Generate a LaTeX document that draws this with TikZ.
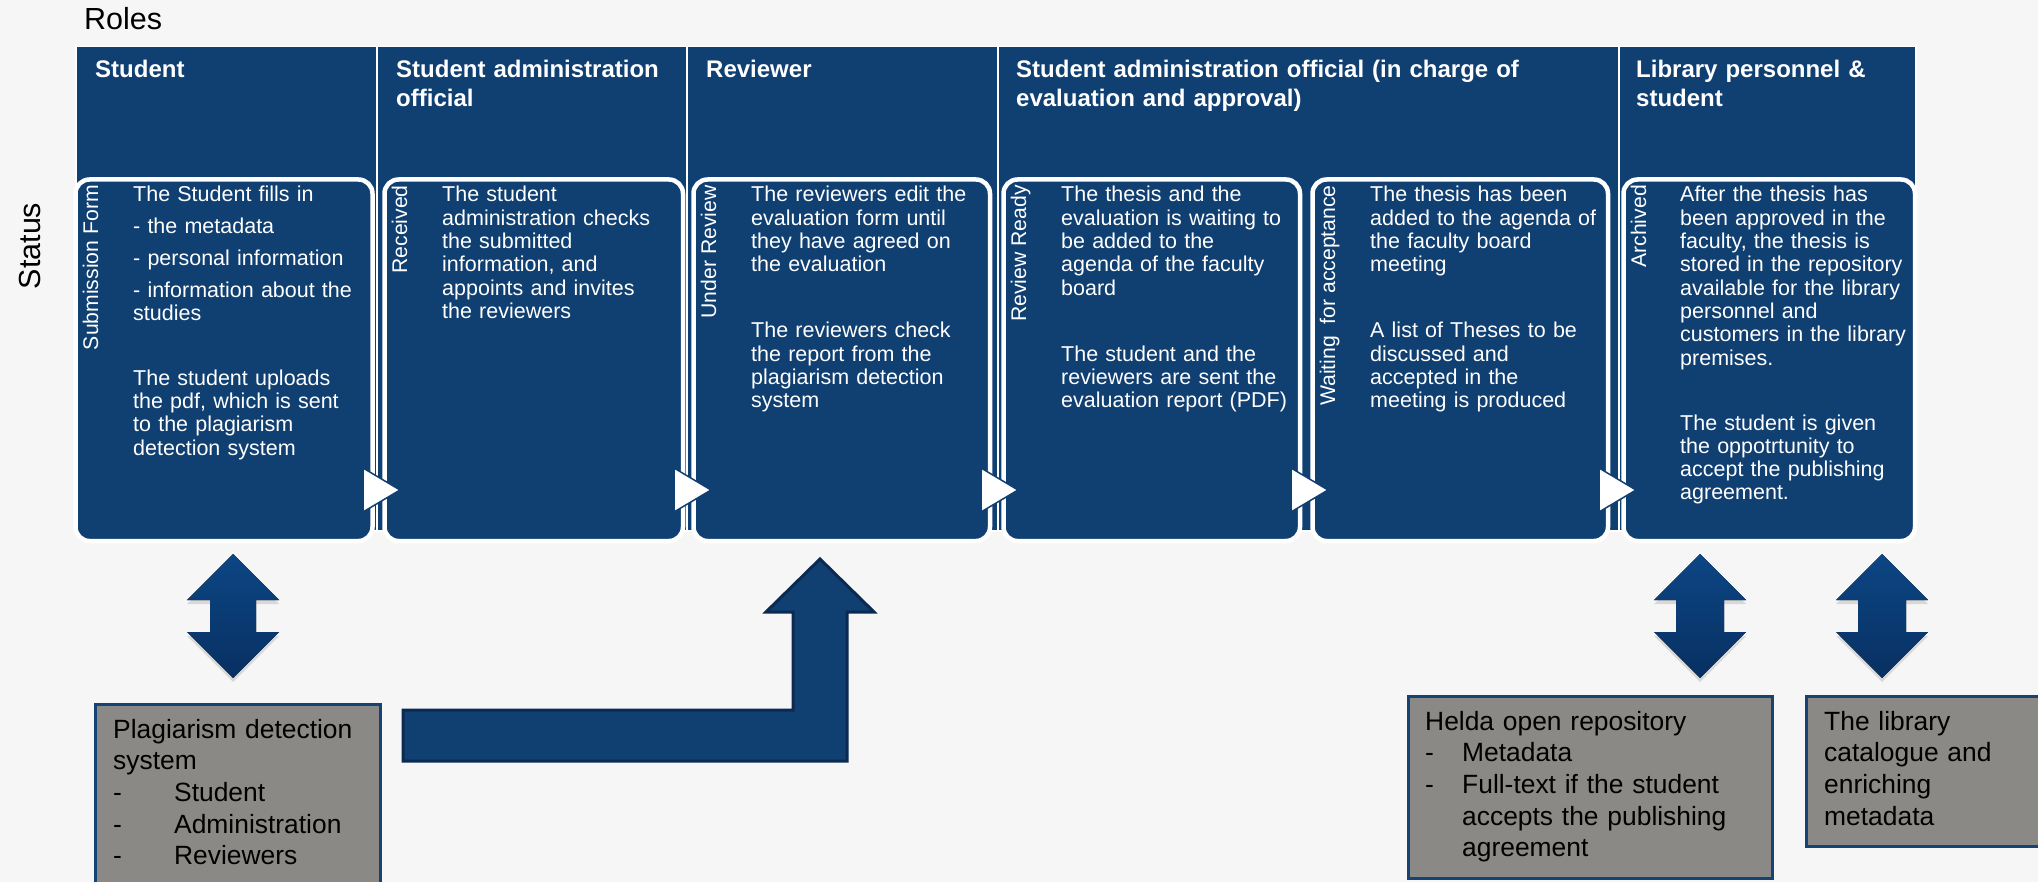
\documentclass[tikz,border=0pt]{standalone}
\usepackage{fontspec}
\setmainfont{Liberation Sans}
\usetikzlibrary{shadows}

\definecolor{roleblue}{RGB}{16,63,114}
\definecolor{sysgray}{RGB}{138,137,133}
\definecolor{sysedge}{RGB}{22,66,116}
\definecolor{bendedge}{RGB}{10,42,82}
\definecolor{arrowtop}{RGB}{12,70,132}
\definecolor{arrowbot}{RGB}{8,48,98}
\definecolor{paper}{RGB}{246,246,246}

\begin{document}
\begin{tikzpicture}[x=1pt,y=-1pt]
    \tikzstyle{role}=[draw=white,line width=1.5pt,fill=roleblue,anchor=north west,inner sep=0,minimum height=484pt]
    \tikzstyle{roletitle}=[text=white,anchor=base west,inner sep=0,align=left,text width=300pt,font=\fontsize{24}{29}\selectfont\bfseries]
    \tikzstyle{status}=[draw=white,line width=4.5pt,fill=roleblue,rounded corners=14pt,anchor=north west,inner sep=0,minimum height=361.5pt]
    \tikzstyle{statuslabel}=[text=white,rotate=90,anchor=base east,inner sep=0,font=\fontsize{21.2}{25}\selectfont]
    \tikzstyle{statustext}=[text=white,anchor=base west,inner sep=0,align=left,text width=250pt,font=\fontsize{21.5}{23.3}\selectfont]
    \tikzstyle{nexttip}=[fill=white,draw=roleblue,line width=1.5pt]
    \tikzstyle{system}=[draw=sysedge,line width=3.5pt,fill=sysgray,anchor=north west,inner sep=0]
    \tikzstyle{systext}=[anchor=base west,inner sep=0,align=left,text width=340pt,font=\fontsize{26.4}{31.7}\selectfont]
    \tikzstyle{dblarrow}=[top color=arrowtop,bottom color=arrowbot,drop shadow={opacity=.25,shadow xshift=0pt,shadow yshift=-4pt}]
    \tikzstyle{bendarrow}=[fill=roleblue,draw=bendedge,line width=3pt]

    \useasboundingbox (0,0) rectangle (2038,882);
    \fill[paper] (0,0) rectangle (2038,882);

    \node[anchor=base west,inner sep=0,font=\fontsize{30.5}{36}\selectfont] (roles) at (84,30) {Roles};
    \node[rotate=90,anchor=base,inner sep=0,font=\fontsize{30.5}{36}\selectfont] (status) at (40,246) {Status};

    % roles
    \node[role,minimum width=301pt] (hStudent) at (75,46) {};
    \node[role,minimum width=310pt] (hAdmin) at (376,46) {};
    \node[role,minimum width=311pt] (hReviewer) at (686,46) {};
    \node[role,minimum width=621pt] (hBoard) at (997,46) {};
    \node[role,minimum width=297pt] (hLibrary) at (1618,46) {};

    \node[roletitle] (tStudent) at (95,78) {Student};
    \node[roletitle] (tAdmin) at (396,78) {Student administration\\official};
    \node[roletitle] (tReviewer) at (706,78) {Reviewer};
    \node[roletitle,text width=600pt] (tBoard) at (1016,78) {Student administration official (in charge of\\evaluation and approval)};
    \node[roletitle] (tLibrary) at (1636,78) {Library personnel \&\\student};

    % statuses
    \node[status,minimum width=297pt] (sForm) at (73.25,177.25) {};
    \node[status,minimum width=298.5pt] (sRecv) at (382.25,177.25) {};
    \node[status,minimum width=296.5pt] (sReview) at (691.25,177.25) {};
    \node[status,minimum width=296.5pt] (sReady) at (1001.25,177.25) {};
    \node[status,minimum width=295.5pt] (sWait) at (1310.25,177.25) {};
    \node[status,minimum width=291.5pt] (sArch) at (1621.25,177.25) {};

    \node[statuslabel] (lForm) at (98,185) {Submission Form};
    \node[statuslabel] (lRecv) at (407,185) {Received};
    \node[statuslabel] (lReview) at (716,185) {Under Review};
    \node[statuslabel] (lReady) at (1026,185) {Review Ready};
    \node[statuslabel] (lWait) at (1335,185) {Waiting\ \ for acceptance};
    \node[statuslabel] (lArch) at (1646,185) {Archived};

    \node[statustext] (xForm) at (133,202) {The Student fills in\\[8.4pt]
        - the metadata\\[8.4pt]
        - personal information\\[8.4pt]
        - information about the\\studies\\[41.7pt]
        The student uploads\\the pdf, which is sent\\to the plagiarism\\detection system};
    \node[statustext] (xRecv) at (442,202) {The student\\administration checks\\the submitted\\information, and\\appoints and invites\\the reviewers};
    \node[statustext] (xReview) at (751,202) {The reviewers edit the\\evaluation form until\\they have agreed on\\the evaluation\\[42.7pt]
        The reviewers check\\the report from the\\plagiarism detection\\system};
    \node[statustext] (xReady) at (1061,202) {The thesis and the\\evaluation is waiting to\\be added to the\\agenda of the faculty\\board\\[42.7pt]
        The student and the\\reviewers are sent the\\evaluation report (PDF)};
    \node[statustext] (xWait) at (1370,202) {The thesis has been\\added to the agenda of\\the faculty board\\meeting\\[42.7pt]
        A list of Theses to be\\discussed and\\accepted in the\\meeting is produced};
    \node[statustext] (xArch) at (1680,202) {After the thesis has\\been approved in the\\faculty, the thesis is\\stored in the repository\\available for the library\\personnel and\\customers in the library\\premises.\\[41.7pt]
        The student is given\\the oppotrtunity to\\accept the publishing\\agreement.};

    % hand-over tips between statuses
    \filldraw[nexttip] (363,468) -- (400,490) -- (363,512) -- cycle;
    \filldraw[nexttip] (674,468) -- (711,490) -- (674,512) -- cycle;
    \filldraw[nexttip] (981,468) -- (1018,490) -- (981,512) -- cycle;
    \filldraw[nexttip] (1291,468) -- (1328,490) -- (1291,512) -- cycle;
    \filldraw[nexttip] (1599,468) -- (1636,490) -- (1599,512) -- cycle;

    % systems
    \node[system,minimum width=285pt,minimum height=200pt] (sysPlag) at (93.75,702.75) {};
    \node[system,minimum width=364pt,minimum height=182pt] (sysHelda) at (1406.75,694.75) {};
    \node[system,minimum width=250pt,minimum height=150pt] (sysCat) at (1804.75,694.75) {};

    \node[systext] (pPlag) at (113,738) {Plagiarism detection\\system\\
        \makebox[61pt][l]{-}Student\\
        \makebox[61pt][l]{-}Administration\\
        \makebox[61pt][l]{-}Reviewers};
    \node[systext] (pHelda) at (1425,730) {Helda open repository\\
        \makebox[37pt][l]{-}Metadata\\
        \makebox[37pt][l]{-}Full-text if the student\\
        \hspace*{37pt}accepts the publishing\\
        \hspace*{37pt}agreement};
    \node[systext,text width=200pt] (pCat) at (1824,730) {The library\\catalogue and\\enriching\\metadata};

    % block arrows
    \fill[dblarrow] (233,554) -- ++(46,46) -- ++(-23,0) -- ++(0,32) -- ++(23,0) -- ++(-46,46)
        -- ++(-46,-46) -- ++(23,0) -- ++(0,-32) -- ++(-23,0) -- cycle;
    \fill[dblarrow] (1700,554) -- ++(46,46) -- ++(-22,0) -- ++(0,32) -- ++(22,0) -- ++(-46,46)
        -- ++(-46,-46) -- ++(22,0) -- ++(0,-32) -- ++(-22,0) -- cycle;
    \fill[dblarrow] (1882,554) -- ++(46,46) -- ++(-22,0) -- ++(0,32) -- ++(22,0) -- ++(-46,46)
        -- ++(-46,-46) -- ++(22,0) -- ++(0,-32) -- ++(-22,0) -- cycle;

    \filldraw[bendarrow] (403,710) -- (793,710) -- (793,612) -- (766,612) -- (820,559)
        -- (874,612) -- (847,612) -- (847,761) -- (403,761) -- cycle;
\end{tikzpicture}
\end{document}
